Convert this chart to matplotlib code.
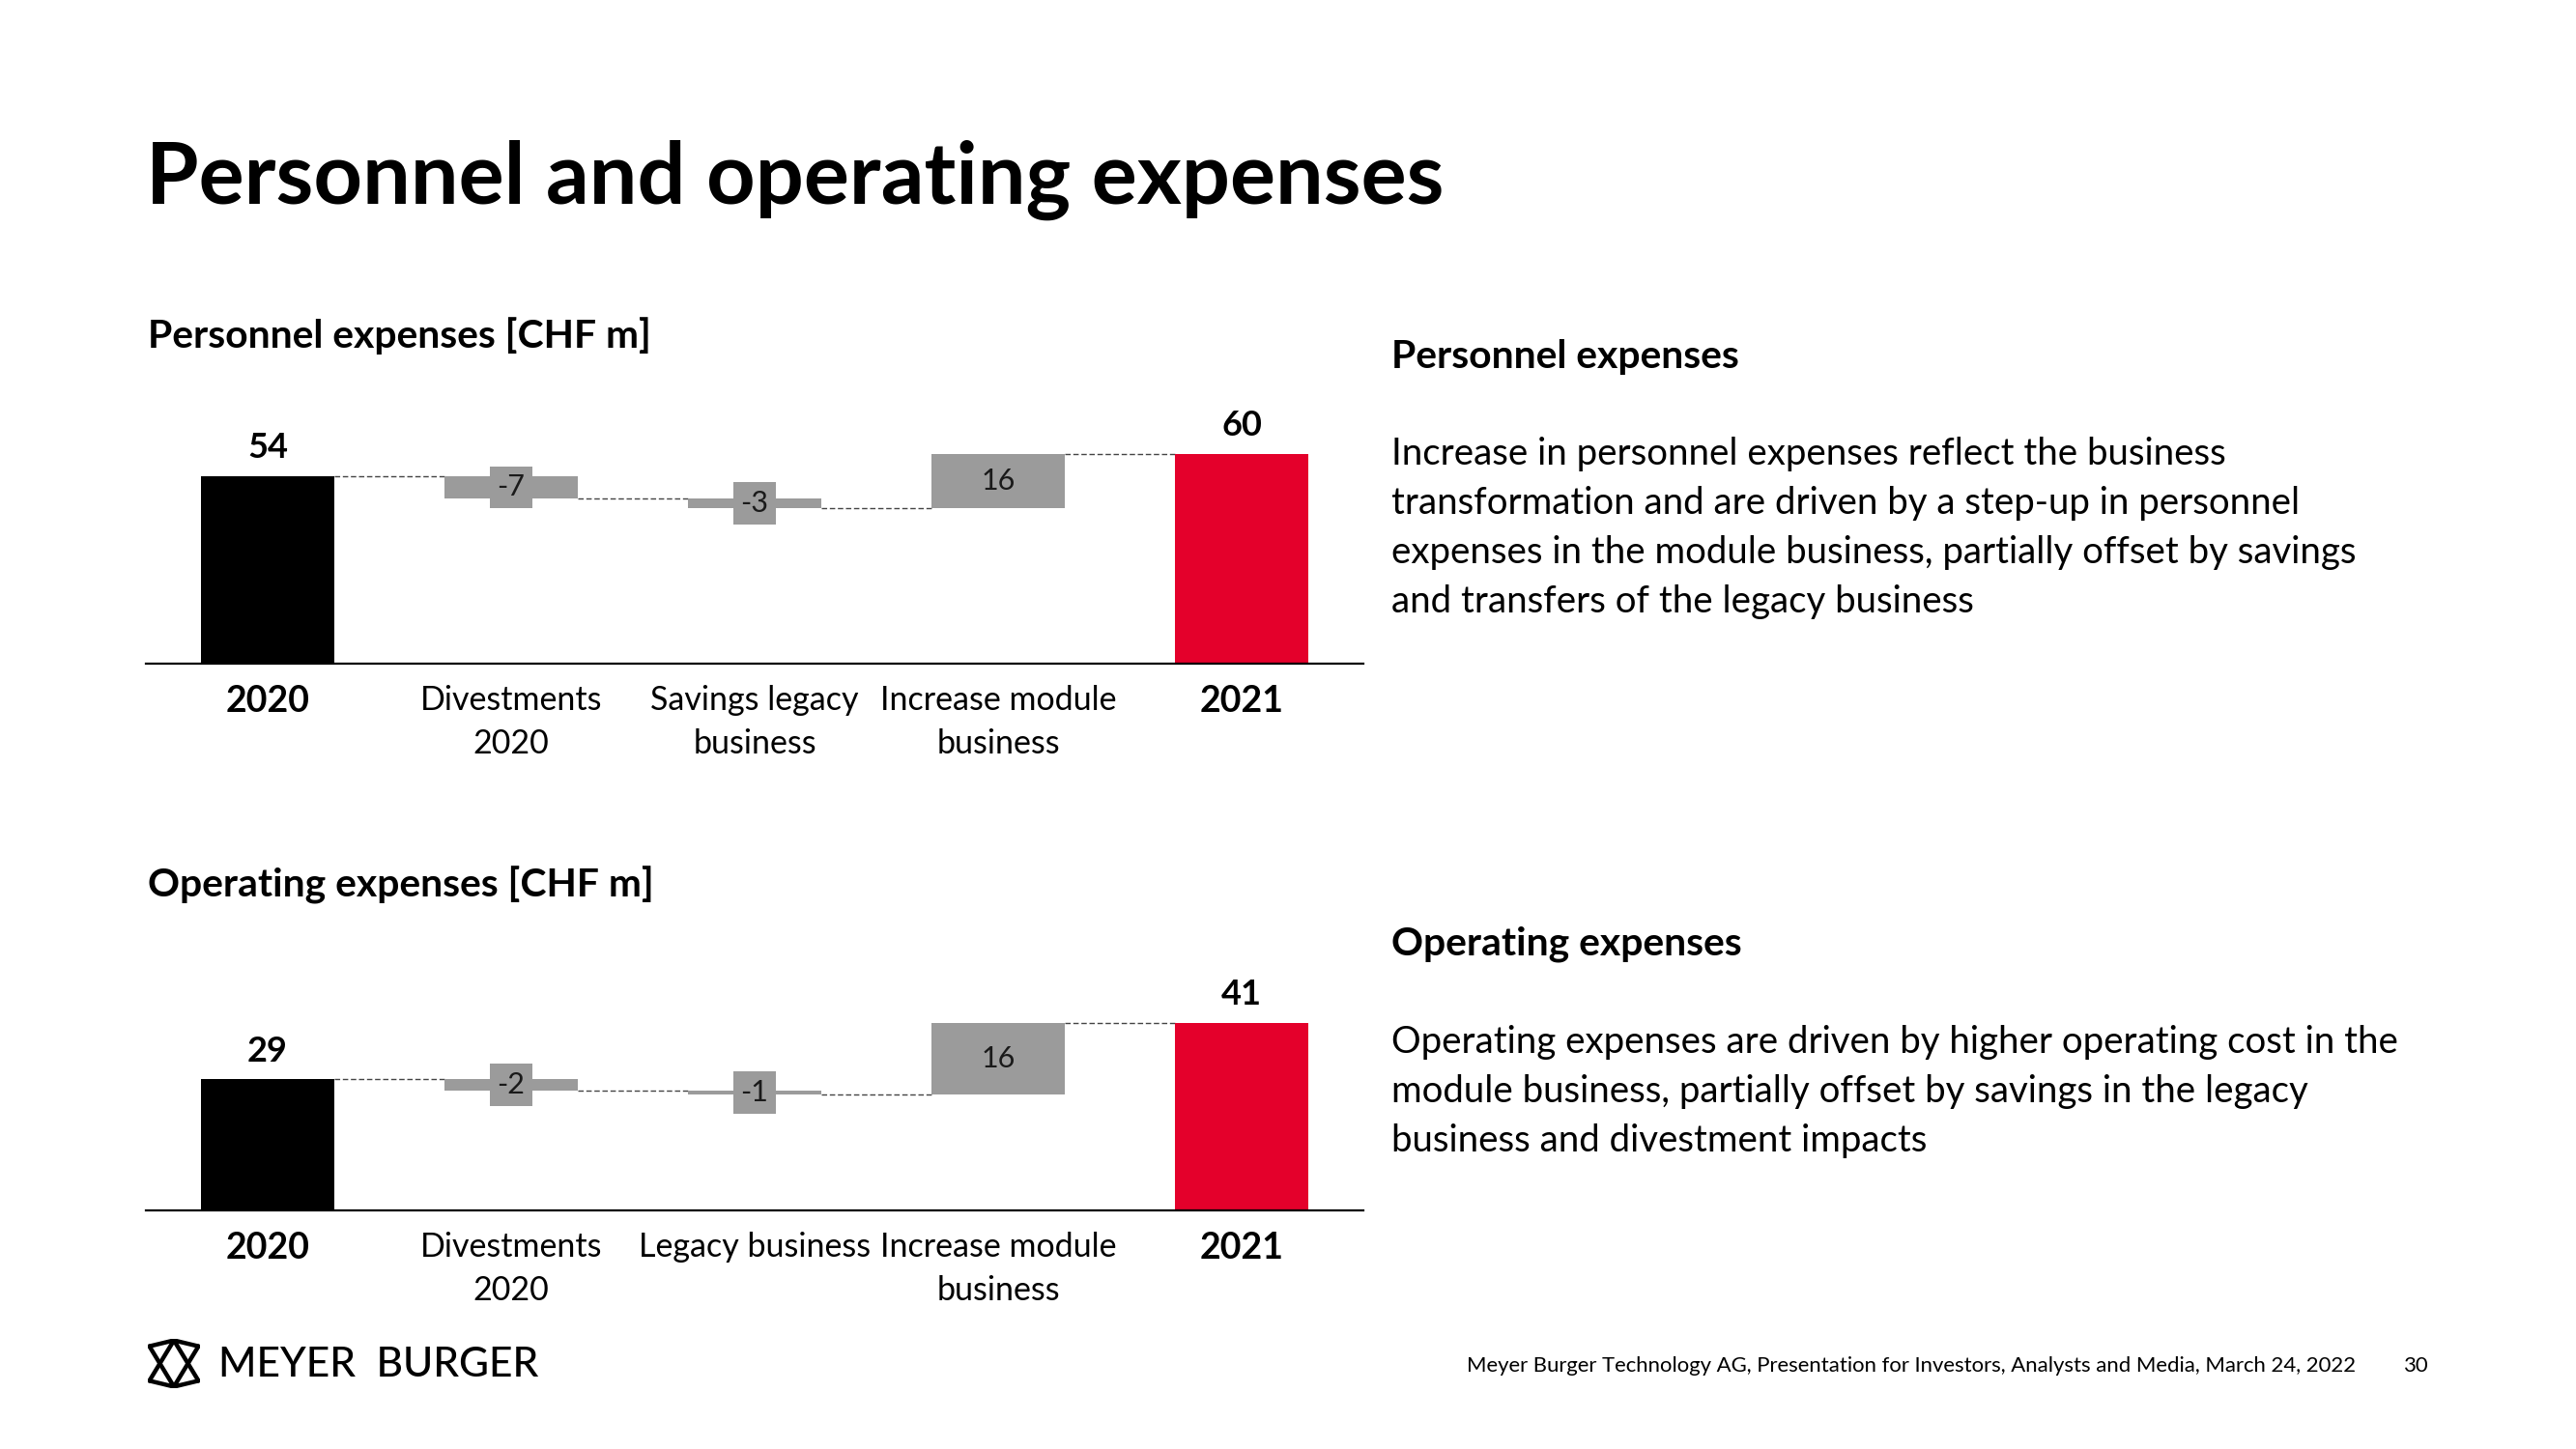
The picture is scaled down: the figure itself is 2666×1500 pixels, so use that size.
import matplotlib
matplotlib.use("Agg")
import matplotlib.pyplot as plt
import numpy as np

plt.rcParams['font.family'] = ['Lato', 'DejaVu Sans']

# Personnel expenses waterfall [CHF m]
pers_labels = ['2020', 'Divestments\n2020', 'Savings legacy\nbusiness', 'Increase module\nbusiness', '2021']
pers_start = 54.0
pers_deltas = [-6.6, -2.6, 15.6]

# Operating expenses waterfall [CHF m]
opex_labels = ['2020', 'Divestments\n2020', 'Legacy business', 'Increase module\nbusiness', '2021']
opex_start = 28.8
opex_deltas = [-2.4, -1.0, 15.8]

pers_text = ["Increase in personnel expenses reflect the business",
             "transformation and are driven by a step-up in personnel",
             "expenses in the module business, partially offset by savings",
             "and transfers of the legacy business"]
opex_text = ["Operating expenses are driven by higher operating cost in the",
             "module business, partially offset by savings in the legacy",
             "business and divestment impacts"]

BLACK = '#000000'
RED = '#e4002b'
GREY = '#9b9b9b'

W, H = 2666, 1500
fig = plt.figure(figsize=(W / 100, H / 100), dpi=100)
fig.patch.set_facecolor('white')


def px(x, y):
    # pixel coords (top-left origin) -> figure fraction
    return x / W, 1 - y / H


def waterfall(ax, labels, start, deltas, ymax):
    n = len(labels)
    x = np.arange(n)
    width = 0.55
    levels = [start]
    for d in deltas:
        levels.append(levels[-1] + d)
    end = levels[-1]

    # totals
    ax.bar(0, start, width, color=BLACK, zorder=2)
    ax.bar(n - 1, end, width, color=RED, zorder=2)
    for xi, v in [(0, start), (n - 1, end)]:
        ax.annotate(f"{round(v):d}", (xi, v), xytext=(0, 9), textcoords='offset points',
                    ha='center', va='bottom', fontsize=26, fontweight='bold')

    # deltas
    for i, d in enumerate(deltas):
        lo = min(levels[i], levels[i + 1])
        ax.bar(i + 1, abs(d), width, bottom=lo, color=GREY, zorder=2)
        ax.text(i + 1, lo + abs(d) / 2, f"{round(d):d}", ha='center', va='center',
                fontsize=22, color='#1a1a1a', zorder=3,
                bbox=dict(boxstyle='square,pad=0.25', fc=GREY, ec='none'))

    # connectors
    for i, lv in enumerate(levels):
        ax.plot([i + width / 2, i + 1 - width / 2], [lv, lv], color='#444444',
                lw=1.0, ls=(0, (4, 2)), zorder=1)

    ax.set_xlim(-0.5, n - 0.5)
    ax.set_ylim(0, ymax)
    ax.set_yticks([])
    ax.set_xticks(x, labels)
    ax.tick_params(axis='x', length=0, pad=16, labelsize=24.5)
    for t in ax.get_xticklabels():
        t.set_linespacing(1.5)
    for i in (0, n - 1):
        ax.get_xticklabels()[i].set_fontweight('bold')
        ax.get_xticklabels()[i].set_fontsize(27)
    for s in ('top', 'left', 'right'):
        ax.spines[s].set_visible(False)
    ax.spines['bottom'].set_linewidth(1.6)
    ax.spines['bottom'].set_zorder(4)


ax1 = fig.add_axes([151 / W, 1 - 687 / H, 1260 / W, 234 / H])
waterfall(ax1, pers_labels, pers_start, pers_deltas, 65)

ax2 = fig.add_axes([151 / W, 1 - 1253 / H, 1260 / W, 212 / H])
waterfall(ax2, opex_labels, opex_start, opex_deltas, 45)

# titles
fig.text(*px(151, 211), "Personnel and operating expenses", fontsize=63.5,
         fontweight='bold', va='baseline')
fig.text(*px(153, 360), "Personnel expenses [CHF m]", fontsize=29.4,
         fontweight='bold', va='baseline')
fig.text(*px(153, 928), "Operating expenses [CHF m]", fontsize=29.4,
         fontweight='bold', va='baseline')

# right-hand commentary
fig.text(*px(1440, 381), "Personnel expenses", fontsize=29.4, fontweight='bold', va='baseline')
for i, line in enumerate(pers_text):
    fig.text(*px(1440, 481 + i * 51), line, fontsize=27.6, va='baseline')
fig.text(*px(1440, 989), "Operating expenses", fontsize=29.4, fontweight='bold', va='baseline')
for i, line in enumerate(opex_text):
    fig.text(*px(1440, 1090 + i * 51), line, fontsize=27.6, va='baseline')

# footer
fig.text(*px(2438, 1420), "Meyer Burger Technology AG, Presentation for Investors, Analysts and Media, March 24, 2022",
         fontsize=15.9, ha='right', va='baseline')
fig.text(*px(2514, 1420), "30", fontsize=15.9, ha='right', va='baseline')

# logo
logo = fig.add_axes([153 / W, 1 - 1437 / H, 54 / W, 51 / H])
logo.set_xlim(0, 1)
logo.set_ylim(0, 1)
logo.axis('off')
tl, t, tr = (0.03, 0.85), (0.5, 0.97), (0.97, 0.85)
bl, b, br = (0.03, 0.15), (0.5, 0.03), (0.97, 0.15)
for p, q in [(tl, t), (t, tr), (bl, b), (b, br), (tl, b), (tr, b), (t, bl), (t, br)]:
    logo.plot([p[0], q[0]], [p[1], q[1]], color=BLACK, lw=3.2, solid_capstyle='round')
fig.text(*px(226, 1425), "MEYER  BURGER", fontsize=30.5, fontweight='medium', va='baseline')

fig.savefig("out.png", dpi=100, facecolor='white')
